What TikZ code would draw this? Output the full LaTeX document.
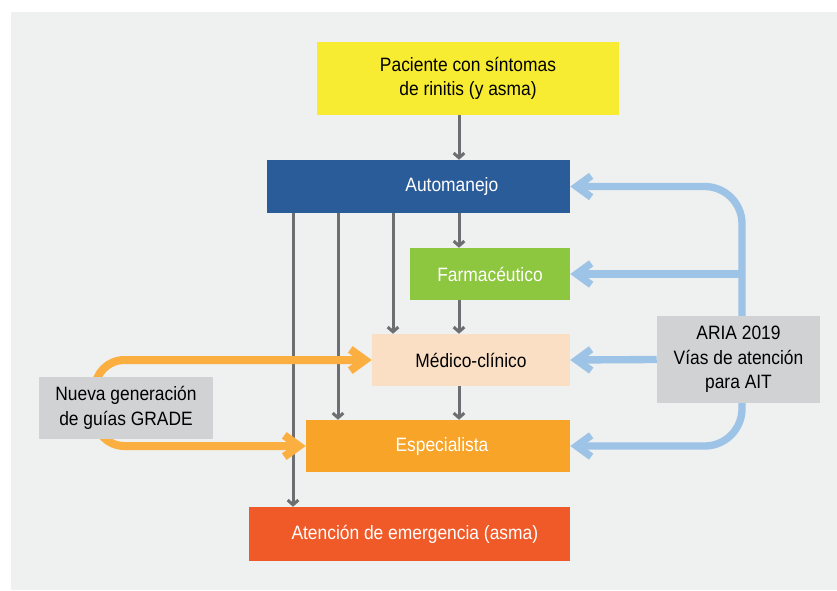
\documentclass[tikz,border=0pt]{standalone}
\usepackage{fontspec}
\setmainfont{Liberation Sans}[FakeStretch=0.9]
\usetikzlibrary{arrows.meta}

\definecolor{fondo}{HTML}{EFF0F0}
\definecolor{amarillo}{HTML}{F7EC31}
\definecolor{azul}{HTML}{2A5C99}
\definecolor{verde}{HTML}{8DC63F}
\definecolor{durazno}{HTML}{FADFC4}
\definecolor{naranja}{HTML}{F7A428}
\definecolor{rojizo}{HTML}{F05A28}
\definecolor{grisclaro}{HTML}{D1D2D4}
\definecolor{grisflecha}{HTML}{6D6E71}
\definecolor{celeste}{HTML}{9DC3E6}
\definecolor{naranjaclaro}{HTML}{FAAF40}

\pgfdeclarelayer{bglayer}
\pgfdeclarelayer{flechas}
\pgfsetlayers{bglayer,flechas,main}

\begin{document}
\begin{tikzpicture}[line join=round,x=0.75pt,y=-0.75pt,
    caja/.style={inner sep=0pt,align=center,font=\fontsize{14.5}{18}\selectfont},
    cajablanca/.style={caja,text=white},
    guia/.style={caja,fill=grisclaro,font=\fontsize{14.5}{18.5}\selectfont},
    flechagris/.style={draw=grisflecha,line width=2.25pt,-{Straight Barb[length=3.5pt,width=8pt]}},
    flechaazul/.style={draw=celeste,line width=5.5pt,-{Straight Barb[length=11pt,width=16pt]}},
    flechanaranja/.style={draw=naranjaclaro,line width=6pt,-{Straight Barb[length=11pt,width=16pt]}}]
  \useasboundingbox (0,0) rectangle (837,590);
  \begin{pgfonlayer}{bglayer}
    \fill [fondo] (11,12) rectangle (837,590);
  \end{pgfonlayer}

  % cajas
  \node [caja,fill=amarillo,minimum width=226.5pt,minimum height=54.75pt] (paciente) at (468,78.5) {Paciente con síntomas\\de rinitis (y asma)};
  \node [cajablanca,fill=azul,minimum width=227.25pt,minimum height=39.75pt,
         label={[text=white,font=\fontsize{14.5}{18}\selectfont,xshift=25pt]center:Automanejo}] (auto) at (418.5,186.5) {};
  \node [cajablanca,fill=verde,minimum width=120pt,minimum height=39pt] (farma) at (490,274) {Farmacéutico};
  \node [caja,fill=durazno,minimum width=148.5pt,minimum height=39pt] (medico) at (471,360) {Médico-clínico};
  \node [cajablanca,fill=naranja,minimum width=198pt,minimum height=39pt] (espec) at (438,446) {\hspace{6pt}Especialista};
  \node [cajablanca,fill=rojizo,minimum width=240.75pt,minimum height=40.5pt] (urgencia) at (409.5,534) {\hspace{8pt}Atención de emergencia (asma)};
  \node [guia,minimum width=130.5pt,minimum height=46.5pt] (grade) at (126,408) {Nueva generación\\de guías GRADE};
  \node [guia,minimum width=122.25pt,minimum height=65.25pt] (aria) at (738.5,359.5) {ARIA 2019\\Vías de atención\\para AIT};

  \coordinate (eje) at (459,0);
  \coordinate (col1) at (293,0);
  \coordinate (col2) at (338,0);
  \coordinate (col3) at (393,0);
  \coordinate (lomo) at (742,0);
  \coordinate (curva) at (95,0);

  \begin{pgfonlayer}{flechas}
    % flechas grises
    \draw [flechagris] (paciente.south -| eje) -- (auto.north -| eje);
    \draw [flechagris] (auto.south -| eje) -- (farma.north -| eje);
    \draw [flechagris] (farma.south -| eje) -- (medico.north -| eje);
    \draw [flechagris] (medico.south -| eje) -- (espec.north -| eje);
    \draw [flechagris] (auto.south -| col1) -- (urgencia.north -| col1);
    \draw [flechagris] (auto.south -| col2) -- (espec.north -| col2);
    \draw [flechagris] (auto.south -| col3) -- (medico.north -| col3);
    % guias GRADE
    \draw [flechanaranja,rounded corners=22] (grade.center -| curva) |- (medico.west);
    \draw [flechanaranja,rounded corners=22] (grade.center -| curva) |- (espec.west);
    % ARIA
    \draw [flechaazul,rounded corners=28] (aria.center -| lomo) |- (auto.east);
    \draw [flechaazul] (farma.east -| lomo) -- (farma.east);
    \draw [flechaazul] (aria.west) -- (medico.east);
    \draw [flechaazul,rounded corners=28] (aria.center -| lomo) |- (espec.east);
  \end{pgfonlayer}
\end{tikzpicture}
\end{document}
